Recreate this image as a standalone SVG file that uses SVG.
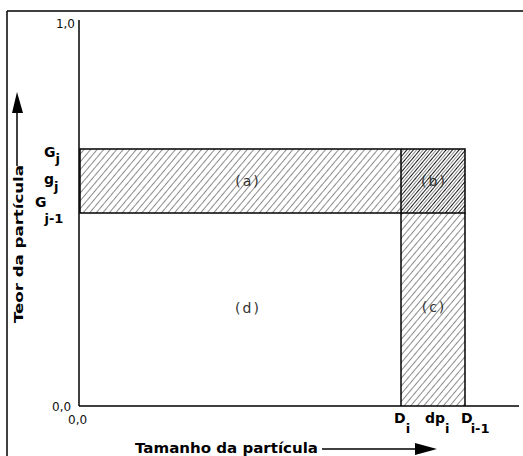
<svg xmlns="http://www.w3.org/2000/svg" width="523" height="456" viewBox="0 0 523 456">
<defs>
<style>
.ax{stroke:#000;stroke-width:1.5;fill:none}
.lbl{font-family:"DejaVu Sans",Verdana,sans-serif;font-weight:bold;fill:#000}
.num{font-family:"DejaVu Sans",Verdana,sans-serif;font-size:12px;fill:#111}
.reg{font-family:"DejaVu Sans",Verdana,sans-serif;font-size:14px;fill:#333;letter-spacing:2px}
.rect{stroke:#000;stroke-width:1.5}
</style>
<pattern id="h" patternUnits="userSpaceOnUse" width="5" height="10" patternTransform="rotate(40)">
<line x1="0" y1="0" x2="0" y2="10" stroke="#000" stroke-width="0.9"/>
</pattern>
<pattern id="h2" patternUnits="userSpaceOnUse" width="5" height="10" patternTransform="rotate(40) translate(2.5 0)">
<line x1="0" y1="0" x2="0" y2="10" stroke="#000" stroke-width="1.8"/>
</pattern>
</defs>
<rect width="523" height="456" fill="#fff"/>
<g id="frame">
<line x1="7" y1="11" x2="523" y2="11" stroke="#000" stroke-width="1.5"/>
<line x1="7" y1="11" x2="7" y2="456" stroke="#000" stroke-width="1.5"/>
</g>
<g id="connectors">
<line class="ax" x1="79" y1="20" x2="79" y2="406"/>
<line class="ax" x1="79" y1="406" x2="519" y2="406"/>
<line class="ax" x1="17" y1="112" x2="17" y2="166"/>
<polygon points="17,92 12,113 23,113" fill="#000"/>
<line class="ax" x1="322" y1="449" x2="417" y2="449"/>
<polygon points="437,449 415,443 415,455" fill="#000"/>
</g>
<g id="region-a">
<rect x="80" y="149" width="321" height="64" fill="url(#h)"/>
<text class="reg" x="248" y="186" text-anchor="middle">(a)</text>
</g>
<g id="region-b">
<rect x="401" y="149" width="64" height="64" fill="url(#h)"/>
<rect x="401" y="149" width="64" height="64" fill="url(#h2)"/>
<text class="reg" x="434" y="186" text-anchor="middle">(b)</text>
</g>
<g id="region-c">
<rect x="401" y="213" width="64" height="193" fill="url(#h)"/>
<text class="reg" x="434" y="312" text-anchor="middle">(c)</text>
</g>
<g id="region-d">
<text class="reg" x="248" y="313" text-anchor="middle">(d)</text>
</g>
<g id="outlines">
<rect class="rect" x="80" y="149" width="385" height="64" fill="none"/>
<line class="rect" x1="401" y1="149" x2="401" y2="406"/>
<line class="rect" x1="465" y1="213" x2="465" y2="406"/>
</g>
<g id="ticks">
<text class="num" x="75" y="28" text-anchor="end">1,0</text>
<text class="num" x="52" y="411">0,0</text>
<text class="num" x="68" y="424">0,0</text>
</g>
<g id="y-labels">
<text class="lbl" font-size="14" x="44" y="157">G<tspan font-size="13" dy="6">j</tspan></text>
<text class="lbl" font-size="14" x="44" y="184">g<tspan font-size="13" dy="7">j</tspan></text>
<text class="lbl" font-size="14" x="35" y="207">G<tspan font-size="13" dy="16" dx="-2">j-1</tspan></text>
</g>
<g id="x-labels">
<text class="lbl" font-size="14" x="394" y="423">D<tspan font-size="13" dy="10" dx="0">i</tspan></text>
<text class="lbl" font-size="14" x="425" y="423">dp<tspan font-size="13" dy="10">i</tspan></text>
<text class="lbl" font-size="14" x="461" y="423">D<tspan font-size="13" dy="10" dx="-2">i-1</tspan></text>
</g>
<g id="axis-titles">
<text class="lbl" font-size="14" x="135" y="453" textLength="183" lengthAdjust="spacingAndGlyphs">Tamanho da partícula</text>
<text class="lbl" font-size="13" transform="translate(23,323) rotate(-90)" textLength="158" lengthAdjust="spacingAndGlyphs">Teor da partícula</text>
</g>
</svg>
